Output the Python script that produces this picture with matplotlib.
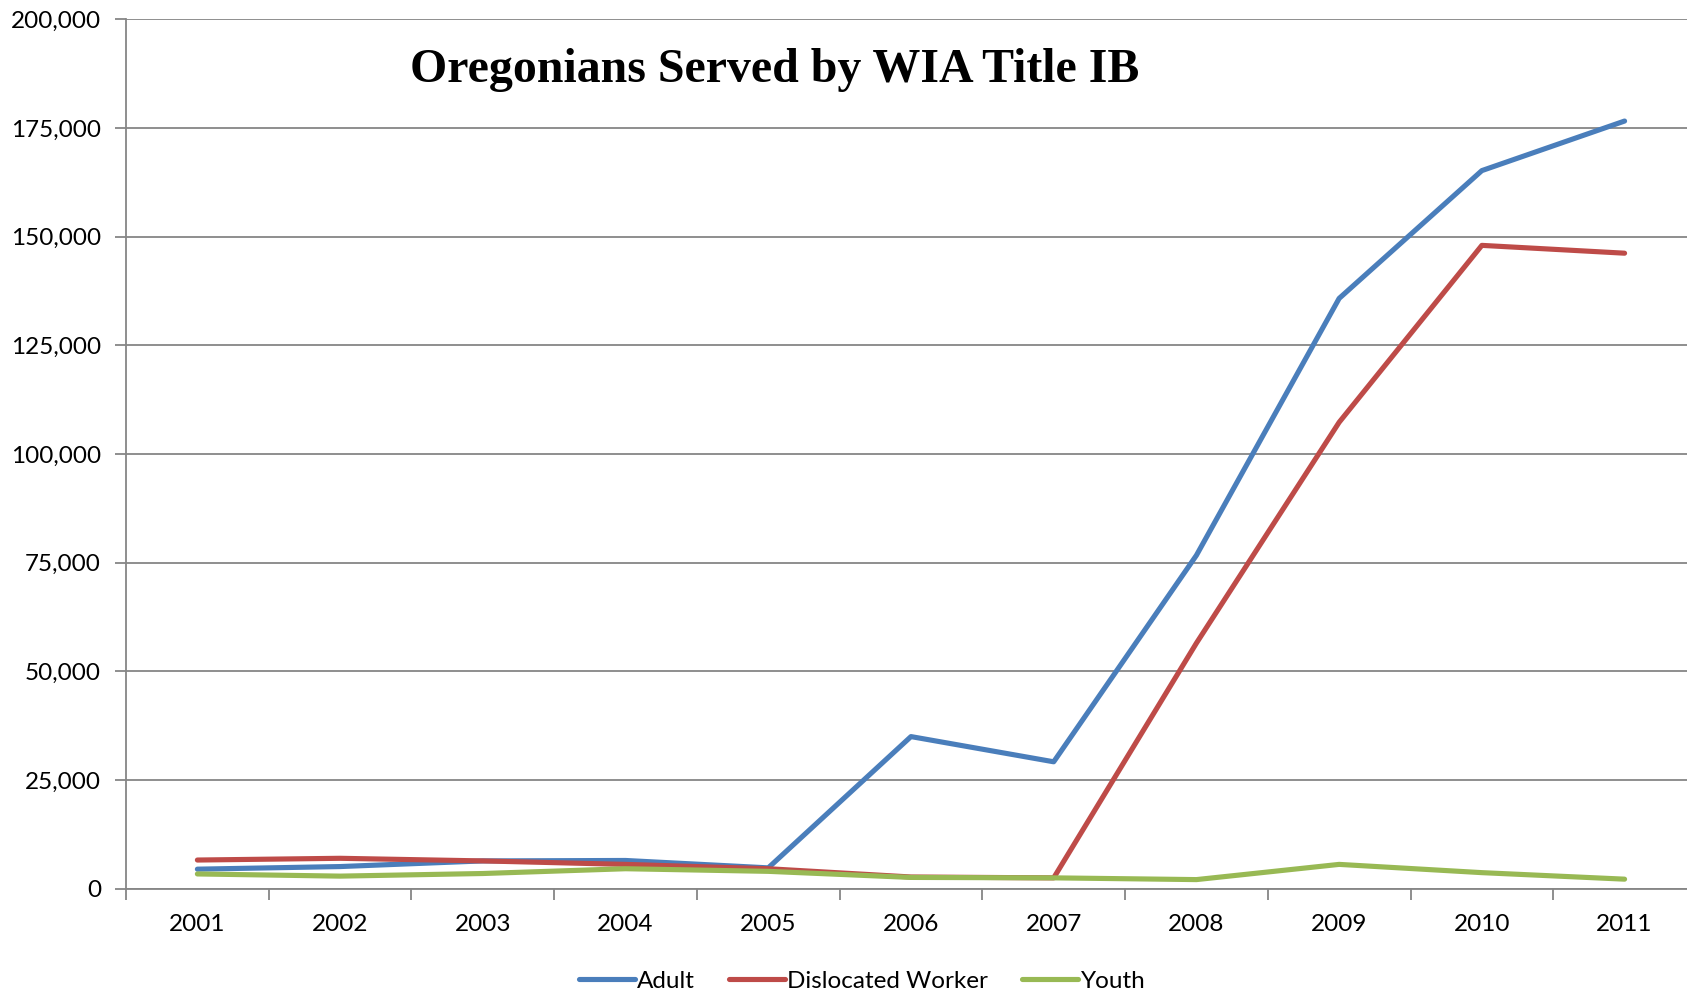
import matplotlib
matplotlib.use("Agg")
import matplotlib.pyplot as plt
from matplotlib.ticker import FuncFormatter, FixedLocator

# ===== 数据 =====
years = ["2001", "2002", "2003", "2004", "2005", "2006",
         "2007", "2008", "2009", "2010", "2011"]
adult = [4500, 5100, 6400, 6500, 4800, 35000, 29200, 76700, 135800, 165200, 176600]
dislocated = [6600, 7000, 6400, 5600, 4600, 2700, 2500, 56500, 107300, 148000, 146200]
youth = [3400, 2900, 3500, 4600, 4000, 2600, 2500, 2100, 5600, 3700, 2200]

COLORS = {
    "adult": "#4A7EBB",
    "dislocated": "#BE4B48",
    "youth": "#98B954",
    "grid": "#868686",
}

plt.rcParams["font.family"] = ["Lato", "DejaVu Sans"]

fig = plt.figure(figsize=(16.87, 9.91), dpi=100)
# 绘图区右侧略超出画布，网格线一直延伸到边缘
ax = fig.add_axes([0.0747, 0.1032, 0.9306, 0.8773])

x = list(range(len(years)))
lw = 3.7
ax.plot(x, adult, color=COLORS["adult"], lw=lw, label="Adult", solid_capstyle="round")
ax.plot(x, dislocated, color=COLORS["dislocated"], lw=lw, label="Dislocated Worker",
        solid_capstyle="round")
ax.plot(x, youth, color=COLORS["youth"], lw=lw, label="Youth", solid_capstyle="round")

ax.set_xlim(-0.5, len(years) - 0.5)
ax.set_ylim(0, 200000)

# y 轴
ax.set_yticks(range(0, 200001, 25000))
ax.yaxis.set_major_formatter(FuncFormatter(lambda v, p: f"{int(v):,}"))
ax.grid(axis="y", color=COLORS["grid"], lw=1.3)
ax.set_axisbelow(True)
ax.tick_params(axis="y", length=8, width=1.3, color=COLORS["grid"], labelsize=17.5, pad=10)

# x 轴：标签居中，刻度在分类边界
ax.set_xticks(x)
ax.set_xticklabels(years)
ax.xaxis.set_minor_locator(FixedLocator([i - 0.5 for i in range(len(years) + 1)]))
ax.tick_params(axis="x", which="major", length=0, labelsize=17.5, pad=18)
ax.tick_params(axis="x", which="minor", length=8, width=1.3, color=COLORS["grid"])

for side in ["top", "right"]:
    ax.spines[side].set_visible(False)
for side in ["left", "bottom"]:
    ax.spines[side].set_color(COLORS["grid"])
    ax.spines[side].set_linewidth(1.3)

fig.text(0.4595, 0.929, "Oregonians Served by WIA Title IB", ha="center", va="center",
         fontsize=34.5, fontweight="bold", family="Liberation Serif")

fig.legend(loc="center", bbox_to_anchor=(0.511, 0.01), ncol=3, frameon=False,
           fontsize=17.5, handlelength=2.3, columnspacing=1.4, handletextpad=0.1)

fig.savefig("out.png", dpi=100)
